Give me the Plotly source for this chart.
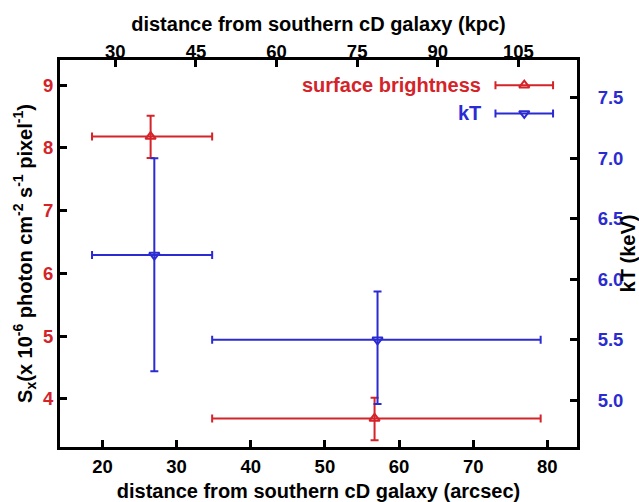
import plotly.graph_objects as go

# Surface brightness and temperature profiles measured from the southern cD galaxy
sb_dist = [26.5, 56.7]            # arcsec
sb_val = [8.18, 3.69]             # 1e-6 photon cm^-2 s^-1 pixel^-1
sb_err_up = [0.33, 0.33]
sb_err_dn = [0.34, 0.35]

kt_dist = [27.0, 57.1]            # arcsec
kt_val = [6.20, 5.50]             # keV
kt_err_up = [0.80, 0.40]
kt_err_dn = [0.96, 0.53]

bin_lo = [18.6, 34.8]             # radial bin edges (arcsec)
bin_hi = [34.8, 79.1]

kpc_per_arcsec = 1.38
arcsec_ticks = [20, 30, 40, 50, 60, 70, 80]
kpc_ticks = [30, 45, 60, 75, 90, 105]
sb_ticks = [4, 5, 6, 7, 8, 9]
kt_ticks = [5.0, 5.5, 6.0, 6.5, 7.0, 7.5]

RED = "#d42329"
BLUE = "#2b2bd2"
FONT = "Liberation Sans"
FS_TICK = 18.5
FS_TITLE = 20

x_range = [14.28, 84.0]


def xerrs(dist):
    plus = [h - d for h, d in zip(bin_hi, dist)]
    minus = [d - l for l, d in zip(bin_lo, dist)]
    return plus, minus


def bold(vals, fmt="{:g}"):
    return [f"<b>{fmt.format(v)}</b>" for v in vals]


fig = go.Figure()

sb_p, sb_m = xerrs(sb_dist)
fig.add_trace(go.Scatter(
    x=sb_dist, y=sb_val, mode="markers", name="surface brightness",
    marker=dict(symbol="triangle-up-open", size=9, color=RED, line=dict(width=2, color=RED)),
    error_x=dict(type="data", symmetric=False, array=sb_p, arrayminus=sb_m,
                 color=RED, thickness=2, width=4),
    error_y=dict(type="data", symmetric=False, array=sb_err_up, arrayminus=sb_err_dn,
                 color=RED, thickness=2, width=4),
    xaxis="x", yaxis="y", showlegend=False,
))

kt_p, kt_m = xerrs(kt_dist)
fig.add_trace(go.Scatter(
    x=kt_dist, y=kt_val, mode="markers", name="kT",
    marker=dict(symbol="triangle-down-open", size=9, color=BLUE, line=dict(width=2, color=BLUE)),
    error_x=dict(type="data", symmetric=False, array=kt_p, arrayminus=kt_m,
                 color=BLUE, thickness=2, width=4),
    error_y=dict(type="data", symmetric=False, array=kt_err_up, arrayminus=kt_err_dn,
                 color=BLUE, thickness=2, width=4),
    xaxis="x", yaxis="y2", showlegend=False,
))

# invisible trace so the kpc axis is drawn
fig.add_trace(go.Scatter(x=[x_range[0] * kpc_per_arcsec], y=[sb_val[0]], mode="markers",
                         marker=dict(opacity=0), xaxis="x2", yaxis="y",
                         showlegend=False, hoverinfo="skip"))

# legend drawn on a hidden unit axis: text on the left, sample on the right
leg_y = [0.935, 0.862]
leg_names = ["surface brightness", "kT"]
leg_cols = [RED, BLUE]
leg_syms = ["triangle-up-open", "triangle-down-open"]
for yy, name, col, sym in zip(leg_y, leg_names, leg_cols, leg_syms):
    fig.add_trace(go.Scatter(
        x=[0.898], y=[yy], mode="markers", xaxis="x3", yaxis="y3", showlegend=False,
        marker=dict(symbol=sym, size=9, color=col, line=dict(width=2, color=col)),
        error_x=dict(type="constant", value=0.0557, color=col, thickness=2, width=4),
        hoverinfo="skip",
    ))
    fig.add_annotation(x=0.818, y=yy, xref="paper", yref="paper", text=f"<b>{name}</b>",
                       showarrow=False, xanchor="right", yanchor="middle",
                       font=dict(family=FONT, size=FS_TITLE, color=col))

axis_common = dict(showline=True, linewidth=3, linecolor="black", ticks="inside",
                   ticklen=7, tickwidth=3, tickcolor="black", showgrid=False,
                   zeroline=False, automargin=False)

fig.update_layout(
    template="none",
    width=639, height=502,
    margin=dict(l=60, r=62, t=60, b=55, pad=0),
    paper_bgcolor="white", plot_bgcolor="white",
    font=dict(family=FONT, size=FS_TICK, color="black"),
    xaxis=dict(range=x_range, tickvals=arcsec_ticks, ticktext=bold(arcsec_ticks),
               tickfont=dict(family=FONT, size=FS_TICK, color="black"),
               ticklabelstandoff=1,
               title=dict(text="<b>distance from southern cD galaxy (arcsec)</b>",
                          font=dict(family=FONT, size=FS_TITLE), standoff=9),
               **axis_common),
    xaxis2=dict(range=[x_range[0] * kpc_per_arcsec, x_range[1] * kpc_per_arcsec],
                overlaying="x", side="top", anchor="y", tickvals=kpc_ticks,
                ticktext=bold(kpc_ticks),
                tickfont=dict(family=FONT, size=FS_TICK, color="black"),
                ticklabelstandoff=-8,
                title=dict(text="<b>distance from southern cD galaxy (kpc)</b>",
                           font=dict(family=FONT, size=FS_TITLE), standoff=4),
                **axis_common),
    yaxis=dict(range=[3.234, 9.40], tickvals=sb_ticks, ticktext=bold(sb_ticks),
               tickfont=dict(family=FONT, size=FS_TICK, color=RED),
               ticklabelstandoff=0,
               title=dict(text="<b>S<sub>x</sub>(x 10<sup>-6</sup> photon cm<sup>-2</sup> s<sup>-1</sup> pixel<sup>-1</sup>)</b>",
                          font=dict(family=FONT, size=FS_TITLE), standoff=6),
               **axis_common),
    yaxis2=dict(range=[4.614, 7.812], tickvals=kt_ticks, ticktext=bold(kt_ticks, "{:.1f}"),
                overlaying="y", side="right", anchor="x",
                tickfont=dict(family=FONT, size=FS_TICK, color=BLUE),
                ticklabelstandoff=14,
                title=dict(text="<b>kT (keV)</b>", font=dict(family=FONT, size=FS_TITLE), standoff=0),
                **axis_common),
    xaxis3=dict(range=[0, 1], visible=False, overlaying="x", anchor="y3"),
    yaxis3=dict(range=[0, 1], visible=False, overlaying="y", anchor="x3"),
    showlegend=False,
)

fig.write_html("out.html")
